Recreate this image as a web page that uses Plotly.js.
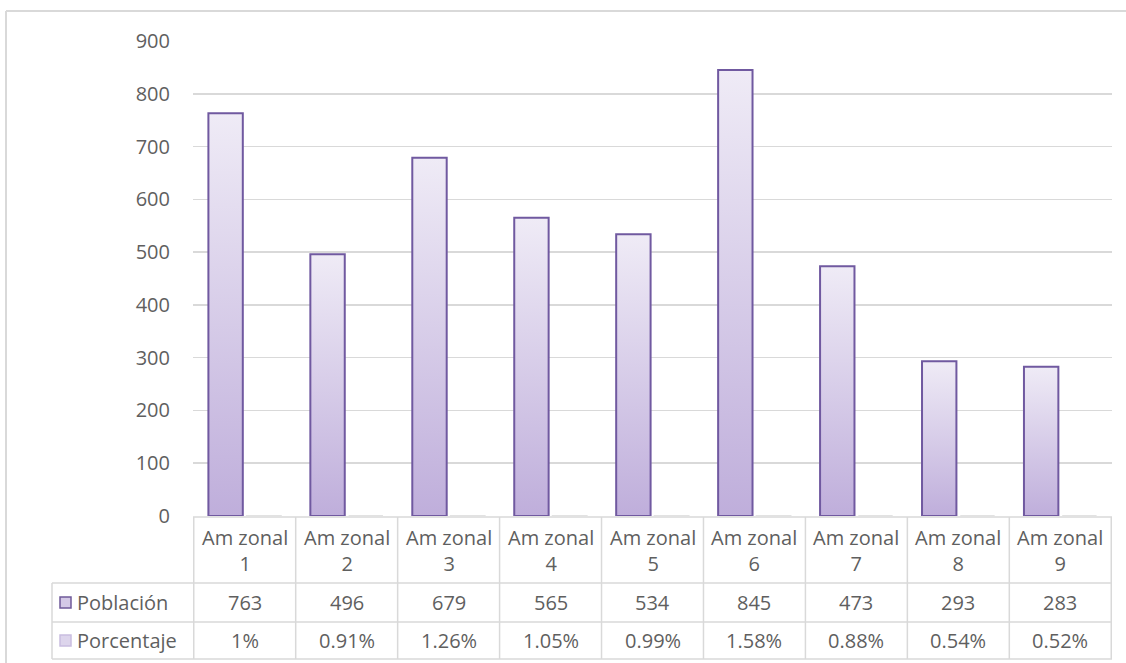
<!DOCTYPE html>
<html>
<head>
<meta charset="utf-8">
<script src="https://cdn.plot.ly/plotly-3.0.1.min.js"></script>
<style>html,body{margin:0;padding:0;background:#fff;}</style>
</head>
<body>
<div id="chart" style="width:1126px;height:663px;"></div>
<script>
const categories = ["Am zonal 1","Am zonal 2","Am zonal 3","Am zonal 4","Am zonal 5","Am zonal 6","Am zonal 7","Am zonal 8","Am zonal 9"];
const categoryLines = [["Am zonal","1"],["Am zonal","2"],["Am zonal","3"],["Am zonal","4"],["Am zonal","5"],["Am zonal","6"],["Am zonal","7"],["Am zonal","8"],["Am zonal","9"]];
const poblacion = [763, 496, 679, 565, 534, 845, 473, 293, 283];
const porcentaje = [0.01, 0.0091, 0.0126, 0.0105, 0.0099, 0.0158, 0.0088, 0.0054, 0.0052];
const seriesNames = ["Población", "Porcentaje"];
const yTicks = [0,100,200,300,400,500,600,700,800,900];

const W = 1126, H = 663;
const plotL = 193, plotR = 1112, plotT = 41, plotB = 516;
const pw = plotR - plotL, ph = plotB - plotT;
const px = x => (x - plotL) / pw;
const py = y => (plotB - y) / ph;

const textColor = '#5f5f5f';
const lineColor = '#d9d9d9';
const font = 'Open Sans, Liberation Sans, sans-serif';
const fs = 20;

const n = categories.length;
const shapes = [];
const annotations = [];

// outer chart border
shapes.push({type:'line', xref:'paper', yref:'paper', x0:px(6), x1:px(1127), y0:py(11), y1:py(11), line:{color:lineColor, width:2}});
shapes.push({type:'line', xref:'paper', yref:'paper', x0:px(6), x1:px(6), y0:py(11), y1:py(700), line:{color:lineColor, width:2}});

// table geometry (pixel rows)
const rowTop = 517, rowHead = 583, rowPob = 622, rowPct = 659;
const labelLeft = 52;

// horizontal table lines
shapes.push({type:'line', xref:'paper', yref:'paper', x0:px(plotL), x1:px(plotR), y0:py(rowTop), y1:py(rowTop), line:{color:lineColor, width:1.5}});
[rowHead, rowPob, rowPct].forEach(r => {
  shapes.push({type:'line', xref:'paper', yref:'paper', x0:px(labelLeft), x1:px(plotR), y0:py(r), y1:py(r), line:{color:lineColor, width:1.5}});
});
// vertical lines at category boundaries
for (let i = 0; i <= n; i++) {
  shapes.push({type:'line', xref:'x', yref:'paper', x0:i-0.5, x1:i-0.5, y0:py(rowTop), y1:py(rowPct), line:{color:lineColor, width:1.5}});
}
// label column left line
shapes.push({type:'line', xref:'paper', yref:'paper', x0:px(labelLeft), x1:px(labelLeft), y0:py(rowHead), y1:py(rowPct), line:{color:lineColor, width:1.5}});

// category headers & values
const fmtPct = v => parseFloat((v*100).toFixed(2)) + '%';
for (let i = 0; i < n; i++) {
  annotations.push({xref:'x', yref:'paper', x:i, y:py((rowTop+rowHead)/2), text:categoryLines[i].join('<br>'), showarrow:false, font:{family:font, size:fs, color:textColor}, xanchor:'center', yanchor:'middle', align:'center'});
  annotations.push({xref:'x', yref:'paper', x:i, y:py((rowHead+rowPob)/2), text:String(poblacion[i]), showarrow:false, font:{family:font, size:fs, color:textColor}, xanchor:'center', yanchor:'middle'});
  annotations.push({xref:'x', yref:'paper', x:i, y:py((rowPob+rowPct)/2), text:fmtPct(porcentaje[i]), showarrow:false, font:{family:font, size:fs, color:textColor}, xanchor:'center', yanchor:'middle'});
}
// row labels with legend keys
const rowCenters = [(rowHead+rowPob)/2, (rowPob+rowPct)/2];
const keyFill = ['#d4c9e6', '#ddd5ec'];
const keyLine = ['#6f5a99', '#c9bde0'];
for (let r = 0; r < 2; r++) {
  const c = rowCenters[r];
  shapes.push({type:'rect', xref:'paper', yref:'paper', x0:px(60), x1:px(71), y0:py(c-5.5), y1:py(c+5.5), fillcolor:keyFill[r], line:{color:keyLine[r], width:1.5}});
  annotations.push({xref:'paper', yref:'paper', x:px(75), y:py(c), text:seriesNames[r], showarrow:false, font:{family:font, size:fs, color:textColor}, xanchor:'left', yanchor:'middle'});
}

const traces = [
  {type:'bar', name:seriesNames[0], x:categories, y:poblacion, marker:{color:'#c9bce1', line:{color:'#7059a0', width:2}}, hoverinfo:'skip'},
  {type:'bar', name:seriesNames[1], x:categories, y:porcentaje, marker:{color:'#e6e0f0', line:{color:'#d9d9d9', width:1.5}}, hoverinfo:'skip'}
];

const layout = {
  width: W, height: H,
  margin: {l: plotL, r: W - plotR, t: plotT, b: H - plotB, pad: 0},
  paper_bgcolor: '#fff', plot_bgcolor: '#fff',
  showlegend: false,
  barmode: 'group', bargap: 0.25, bargroupgap: 0.1,
  font: {family: font, size: fs, color: textColor},
  xaxis: {type:'category', showticklabels:false, showgrid:false, zeroline:false, showline:false, ticks:''},
  yaxis: {range:[0,900], tickvals:yTicks, ticktext:yTicks.map(String), showgrid:true, gridcolor:lineColor, gridwidth:1.5, zeroline:false, showline:false, ticks:'', ticklabelstandoff:22, tickfont:{family:font, size:fs, color:textColor}},
  shapes: shapes,
  annotations: annotations
};

Plotly.newPlot('chart', traces, layout, {staticPlot:true, displayModeBar:false}).then(() => {
  const svg = document.querySelector('#chart .main-svg');
  let defs = svg.querySelector('defs');
  const NS = 'http://www.w3.org/2000/svg';
  const grad = document.createElementNS(NS, 'linearGradient');
  grad.setAttribute('id', 'barGrad');
  grad.setAttribute('x1', '0'); grad.setAttribute('y1', '1');
  grad.setAttribute('x2', '0'); grad.setAttribute('y2', '0');
  [['0', '#bfaedb'], ['1', '#efebf6']].forEach(([o, c]) => {
    const s = document.createElementNS(NS, 'stop');
    s.setAttribute('offset', o); s.setAttribute('stop-color', c);
    grad.appendChild(s);
  });
  defs.appendChild(grad);
  const tr = document.querySelectorAll('#chart .barlayer .trace')[0];
  if (tr) tr.querySelectorAll('path').forEach(p => { p.style.fill = 'url(#barGrad)'; });
});
</script>
</body>
</html>
